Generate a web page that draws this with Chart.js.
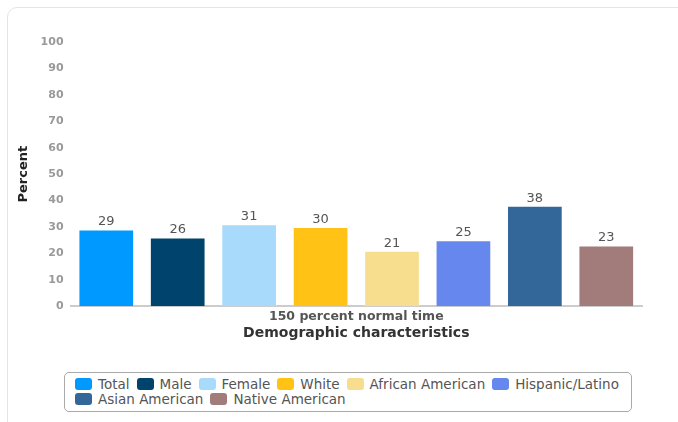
<!DOCTYPE html>
<html>
<head>
<meta charset="utf-8">
<script src="https://cdn.jsdelivr.net/npm/chart.js@4"></script>
<style>
  body { margin: 0; background: #fff; font-family: "DejaVu Sans", sans-serif; overflow: hidden; }
  #card { position: absolute; left: 7px; top: 7px; width: 720px; height: 460px;
          border: 1px solid #e2e5e8; border-radius: 10px; }
  #wrap { position: absolute; left: 0; top: 0; width: 660px; height: 345px; }
  #legend { position: absolute; left: 64px; top: 372px; width: 556px; height: 30px; padding: 4px 0 4px 10px;
            border: 1px solid #aaa; border-radius: 5px; font-size: 13.5px; color: #555; line-height: 15px; }
  .item { display: inline-block; margin-right: 7px; white-space: nowrap; }
  .sw { display: inline-block; width: 17px; height: 12px; border-radius: 3px; vertical-align: -1px; margin-right: 6px; }
</style>
</head>
<body>
<div id="card"></div>
<div id="wrap"><canvas id="chart"></canvas></div>
<div id="legend"></div>
<script>
const categories = ["150 percent normal time"];
const groups = ["Total", "Male", "Female", "White", "African American", "Hispanic/Latino", "Asian American", "Native American"];
const values = [29, 26, 31, 30, 21, 25, 38, 23];
const colors = ["#0099ff", "#00446e", "#a8dafb", "#ffc215", "#f7de8f", "#6688ee", "#336699", "#a27b7b"];

// etiquetas de valor encima de cada barra
const valueLabels = {
  id: "valueLabels",
  afterDatasetsDraw(chart) {
    const ctx = chart.ctx;
    ctx.save();
    ctx.font = "13px 'DejaVu Sans'";
    ctx.fillStyle = "#555";
    ctx.textAlign = "center";
    ctx.textBaseline = "bottom";
    chart.data.datasets.forEach((ds, i) => {
      chart.getDatasetMeta(i).data.forEach((bar, j) => {
        ctx.fillText(ds.data[j], bar.x, bar.y - 1);
      });
    });
    ctx.restore();
  }
};

new Chart(document.getElementById("chart"), {
  type: "bar",
  data: {
    labels: categories,
    datasets: groups.map((g, i) => ({
      label: g,
      data: [values[i]],
      backgroundColor: colors[i],
      borderColor: "rgba(255,255,255,0.3)",
      borderWidth: 1,
      categoryPercentage: 1,
      barPercentage: 0.78
    }))
  },
  options: {
    responsive: true,
    maintainAspectRatio: false,
    animation: false,
    layout: { padding: { top: 42, right: 18, left: 14, bottom: 3 } },
    plugins: { legend: { display: false }, tooltip: { enabled: false } },
    scales: {
      x: {
        grid: {
          offset: true,
          drawOnChartArea: false,
          tickLength: 6,
          color: (c) => (c.index === 1 ? "#ccc" : "rgba(0,0,0,0)")
        },
        border: { color: "#ccc", width: 2 },
        ticks: { color: "#555", font: { family: "DejaVu Sans", size: 12.5, weight: "bold" }, padding: -3 },
        title: { display: true, text: "Demographic characteristics", color: "#333",
                 font: { family: "DejaVu Sans", size: 14, weight: "bold" }, padding: { top: 4, bottom: 0 } }
      },
      y: {
        min: 0, max: 100,
        grid: { display: false, drawTicks: false },
        border: { display: false },
        ticks: { stepSize: 10, color: "#999", padding: 7, font: { family: "DejaVu Sans", size: 11, weight: "bold" } },
        title: { display: true, text: "Percent", color: "#222",
                 font: { family: "DejaVu Sans", size: 13, weight: "bold" }, padding: 2 }
      }
    }
  },
  plugins: [valueLabels]
});

// leyenda en HTML
const legend = document.getElementById("legend");
groups.forEach((g, i) => {
  const span = document.createElement("span");
  span.className = "item";
  span.innerHTML = `<span class="sw" style="background:${colors[i]}"></span>${g}`;
  legend.appendChild(span);
});
</script>
</body>
</html>
